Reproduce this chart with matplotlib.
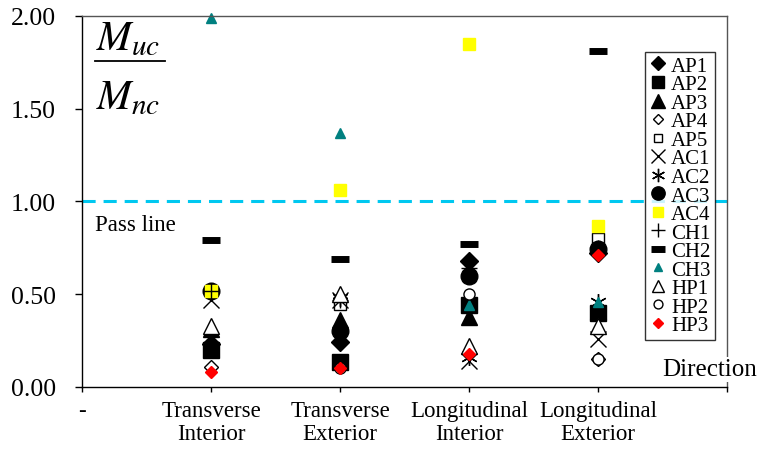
import numpy as np
import matplotlib.pyplot as plt

plt.rcParams['font.family'] = ['Liberation Serif', 'DejaVu Serif']
plt.rcParams['mathtext.fontset'] = 'stix'

# x positions 1..4, one column per direction
directions = ['Transverse\nInterior', 'Transverse\nExterior',
              'Longitudinal\nInterior', 'Longitudinal\nExterior']
xpos = [1, 2, 3, 4]

# ratio Muc/Mnc per specimen
AP1 = [0.23, 0.24, 0.68, 0.72]
AP2 = [0.20, 0.135, 0.44, 0.40]
AP3 = [0.31, 0.36, 0.38, 0.41]
AP4 = [0.11, 0.48, 0.19, 0.15]
AP5 = [0.52, 0.45, 0.60, 0.80]
AC1 = [0.47, 0.47, 0.14, 0.26]
AC2 = [0.22, 0.48, 0.16, 0.46]
AC3 = [0.52, 0.30, 0.60, 0.745]
AC4 = [0.52, 1.06, 1.85, 0.87]
CH1 = [0.52, 0.47, 0.64, 0.75]
CH2 = [0.79, 0.69, 0.77, 1.81]
CH3 = [1.99, 1.37, 0.44, 0.46]
HP1 = [0.33, 0.50, 0.22, 0.33]
HP2 = [np.nan, 0.10, 0.50, 0.15]
HP3 = [0.08, 0.105, 0.18, 0.71]

pass_value = 1.0

series = [
    ('AP1', AP1, dict(marker='D', ms=9, mfc='black', mec='black')),
    ('AP2', AP2, dict(marker='s', ms=11.5, mfc='black', mec='black')),
    ('AP3', AP3, dict(marker='^', ms=12, mfc='black', mec='black')),
    ('AP4', AP4, dict(marker='D', ms=7, mfc='white', mec='black', mew=1)),
    ('AP5', AP5, dict(marker='s', ms=8, mfc='white', mec='black', mew=1)),
    ('AC1', AC1, dict(marker='x', ms=12, mec='black', mew=1)),
    ('AC2', AC2, dict(marker=(6, 2, 0), ms=12, mec='black', mew=1)),
    ('AC3', AC3, dict(marker='o', ms=12, mfc='black', mec='black')),
    ('AC4', AC4, dict(marker='s', ms=9, mfc='#FFFF00', mec='#FFFF00')),
    ('CH1', CH1, dict(marker='+', ms=12, mec='black', mew=1)),
    ('CH2', CH2, dict(marker='_', ms=13, mec='black', mew=5)),
    ('CH3', CH3, dict(marker='^', ms=7, mfc='#008080', mec='#008080')),
    ('HP1', HP1, dict(marker='^', ms=11, mfc='white', mec='black', mew=1)),
    ('HP2', HP2, dict(marker='o', ms=8, mfc='white', mec='black', mew=1)),
    ('HP3', HP3, dict(marker='D', ms=6.5, mfc='#FF0000', mec='#FF0000')),
]

fig = plt.figure(figsize=(7.61, 4.52), dpi=100)
ax = fig.add_axes([0.1078, 0.1416, 0.8475, 0.8208])

for name, vals, style in series:
    ax.plot(xpos, vals, linestyle='none', label=name, clip_on=False, **style)

ax.axhline(pass_value, color='#00C8F0', lw=2.2, dashes=(4.3, 2.6), zorder=1)

ax.set_xlim(0, 5)
ax.set_ylim(0, 2)
ax.set_xticks([0, 1, 2, 3, 4, 5])
ax.set_xticklabels(['-'] + directions + [''], fontsize=16.5, linespacing=1.1)
ax.set_yticks([0, 0.5, 1.0, 1.5, 2.0])
ax.set_yticklabels(['%.2f' % v for v in [0, 0.5, 1.0, 1.5, 2.0]], fontsize=18.5)
ax.tick_params(axis='y', length=5, width=1, pad=14)
ax.tick_params(axis='x', length=3.6, width=1, pad=6)
for sp in ax.spines.values():
    sp.set_linewidth(1)
ax.spines['top'].set_color('#555555')
ax.spines['right'].set_color('#555555')

# fraction label
fig.text(0.126, 0.888, r'$M_{uc}$', fontsize=30)
fig.add_artist(plt.Line2D([95 / 761, 165 / 761], [1 - 62 / 452, 1 - 62 / 452],
                          color='black', lw=1.3))
fig.text(0.126, 0.758, r'$M_{nc}$', fontsize=30)

ax.text(0.02, 0.935, 'Pass line', transform=ax.get_yaxis_transform(),
        fontsize=16.5, va='top')
fig.text(0.87, 0.168, 'Direction', fontsize=18,
         bbox=dict(facecolor='white', edgecolor='none', pad=1))

ax.legend(loc='upper left', bbox_to_anchor=(645 / 761, 1 - 53 / 452),
          bbox_transform=fig.transFigure, fontsize=15, frameon=True,
          fancybox=False, edgecolor='black', borderaxespad=0,
          handlelength=0.8, handletextpad=0.25, labelspacing=-0.05,
          borderpad=0.2, numpoints=1, markerscale=0.8)

fig.savefig('out.png', dpi=100)
